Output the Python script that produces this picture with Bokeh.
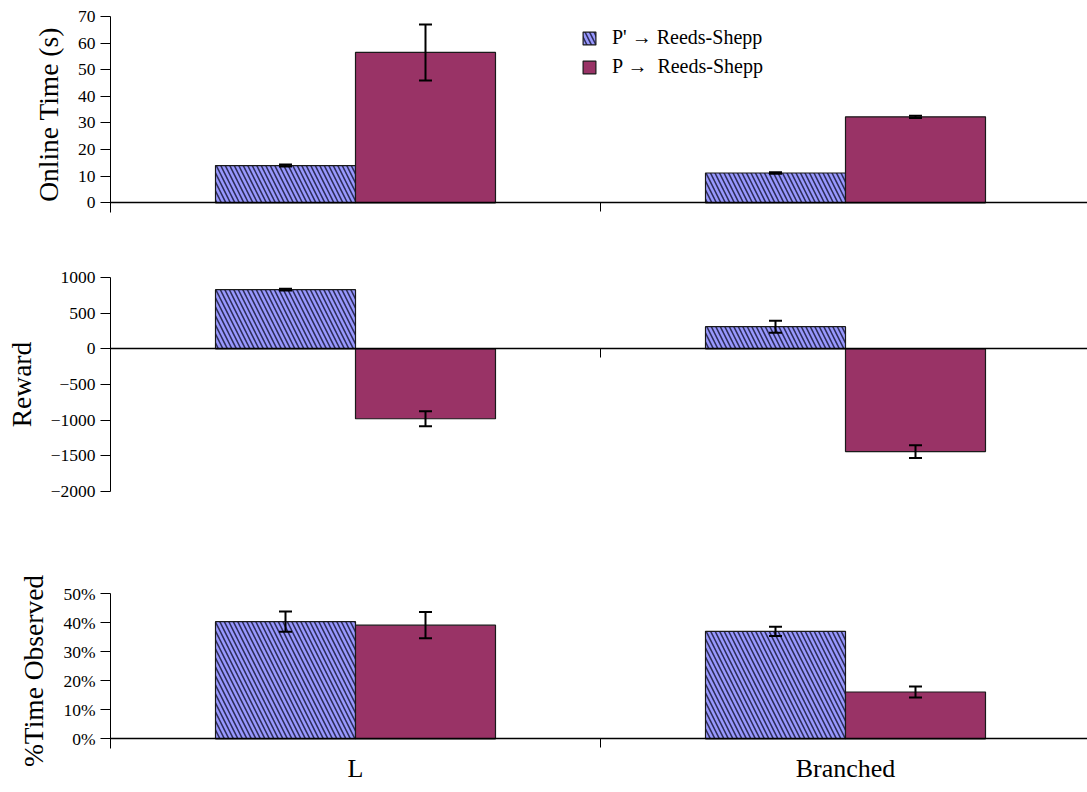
from bokeh.plotting import figure
from bokeh.layouts import column
from bokeh.models import (Range1d, FixedTicker, ColumnDataSource, Whisker, TeeHead,
                          Legend, LegendItem, NumeralTickFormatter, LinearAxis)
from bokeh.embed import file_html
from bokeh.resources import INLINE

# ---------------- data ----------------
categories = ["L", "Branched"]
series_names = ["P' \u2192 Reeds-Shepp", "P \u2192  Reeds-Shepp"]

time_pprime = [14.0, 11.2]
time_pprime_err = [0.4, 0.3]
time_p = [56.5, 32.3]
time_p_err = [10.5, 0.4]

reward_pprime = [830, 310]
reward_pprime_err = [12, 85]
reward_p = [-980, -1440]
reward_p_err = [105, 90]

obs_pprime = [0.403, 0.370]
obs_pprime_err = [0.035, 0.016]
obs_p = [0.391, 0.161]
obs_p_err = [0.045, 0.019]

time_ticks = [0, 10, 20, 30, 40, 50, 60, 70]
reward_ticks = [-2000, -1500, -1000, -500, 0, 500, 1000]
obs_ticks = [0, 0.1, 0.2, 0.3, 0.4, 0.5]

# ---------------- style ----------------
FONT = "Liberation Serif"
BLUE = "#9999ff"
PURPLE = "#993366"
BAR_W = 0.2857
X_END = 977 / 490.0

idx = list(range(len(categories)))
x_left = [i + 0.5 - BAR_W / 2 for i in idx]
x_right = [i + 0.5 + BAR_W / 2 for i in idx]


def make_panel(vals_a, err_a, vals_b, err_b, y_start, y_end, yticks, ylabel,
               frame_h, b_top, b_bottom, bottom_labels=False, pct=False):
    p = figure(frame_width=977, frame_height=frame_h, x_range=Range1d(0, X_END),
               y_range=Range1d(y_start, y_end), output_backend="svg",
               toolbar_location=None, min_border_left=110, min_border_right=0,
               min_border_top=b_top, min_border_bottom=b_bottom)
    p.outline_line_color = None
    p.grid.visible = False
    p.background_fill_color = "white"
    p.border_fill_color = "white"

    src_a = ColumnDataSource(dict(x=x_left, top=vals_a,
                                  up=[v + e for v, e in zip(vals_a, err_a)],
                                  lo=[v - e for v, e in zip(vals_a, err_a)]))
    src_b = ColumnDataSource(dict(x=x_right, top=vals_b,
                                  up=[v + e for v, e in zip(vals_b, err_b)],
                                  lo=[v - e for v, e in zip(vals_b, err_b)]))
    ra = p.vbar(x="x", top="top", bottom=0, width=BAR_W, source=src_a,
                fill_color=BLUE, line_color="#1a1a1a", line_width=1.2,
                hatch_pattern="\\", hatch_color="#22224a", hatch_alpha=0.9,
                hatch_scale=9, hatch_weight=1.6)
    rb = p.vbar(x="x", top="top", bottom=0, width=BAR_W, source=src_b,
                fill_color=PURPLE, line_color="#1a1a1a", line_width=1.2)
    for s in (src_a, src_b):
        w = Whisker(base="x", upper="up", lower="lo", source=s,
                    line_color="black", line_width=2, level="overlay",
                    upper_head=TeeHead(size=13, line_width=2, line_color="black"),
                    lower_head=TeeHead(size=13, line_width=2, line_color="black"))
        p.add_layout(w)

    # y axis
    ya = p.yaxis[0]
    ya.ticker = FixedTicker(ticks=yticks)
    if pct:
        ya.formatter = NumeralTickFormatter(format="0%")
    else:
        ya.major_label_overrides = {t: str(t).replace("-", "\u2212") for t in yticks if t < 0}
    ya.axis_label = ylabel
    ya.axis_label_text_font = FONT
    ya.axis_label_text_font_size = "27.5px"
    ya.axis_label_text_font_style = "normal"
    ya.axis_label_text_color = "black"
    ya.axis_label_standoff = 11
    ya.major_label_text_font = FONT
    ya.major_label_text_font_size = "17.5px"
    ya.major_label_text_color = "black"
    ya.major_label_standoff = 5
    ya.major_tick_out = 10
    ya.major_tick_in = 0
    ya.minor_tick_out = 0
    ya.minor_tick_in = 0
    ya.axis_line_color = "black"
    ya.major_tick_line_color = "black"

    # x axis at y = 0 (line and ticks at category boundaries)
    xa = p.xaxis[0]
    xa.fixed_location = 0
    xa.axis_line_color = "black"
    xa.axis_line_width = 1.3
    xa.ticker = FixedTicker(ticks=list(range(len(categories) + 1)))
    xa.major_tick_out = 9
    xa.major_tick_in = 0
    xa.minor_tick_out = 0
    xa.major_tick_line_color = "black"
    xa.major_label_text_font_size = "0px"
    xa.major_label_text_color = None
    xa.major_label_standoff = 0

    if bottom_labels:
        la = LinearAxis(ticker=FixedTicker(ticks=[i + 0.5 for i in idx]),
                        major_label_overrides={i + 0.5: c for i, c in zip(idx, categories)},
                        axis_line_color=None, major_tick_line_color=None,
                        minor_tick_line_color=None, major_tick_out=0, major_tick_in=0,
                        minor_tick_out=0, minor_tick_in=0,
                        major_label_text_font=FONT, major_label_text_font_size="26px",
                        major_label_text_color="black", major_label_standoff=5)
        p.add_layout(la, "below")
    return p, ra, rb


p1, r1a, r1b = make_panel(time_pprime, time_pprime_err, time_p, time_p_err,
                          -3.64, 70, time_ticks, "Online Time (s)", 196, 16, 30)
p2, _, _ = make_panel(reward_pprime, reward_pprime_err, reward_p, reward_p_err,
                      -2000, 1000, reward_ticks, "Reward", 214, 35, 30)
p3, _, _ = make_panel(obs_pprime, obs_pprime_err, obs_p, obs_p_err,
                      -0.0334, 0.5, obs_ticks, "%Time Observed", 155, 72, 44,
                      bottom_labels=True, pct=True)

legend = Legend(items=[LegendItem(label=series_names[0], renderers=[r1a]),
                       LegendItem(label=series_names[1], renderers=[r1b])],
                location=(471, 134), glyph_width=16, glyph_height=16,
                label_standoff=15, spacing=6, padding=0, margin=0,
                border_line_alpha=0, background_fill_alpha=0,
                label_text_font=FONT, label_text_font_size="20px",
                label_text_color="black")
p1.add_layout(legend, "center")

layout = column(p1, p2, p3, spacing=0)
open("out.html", "w").write(file_html(layout, INLINE))
